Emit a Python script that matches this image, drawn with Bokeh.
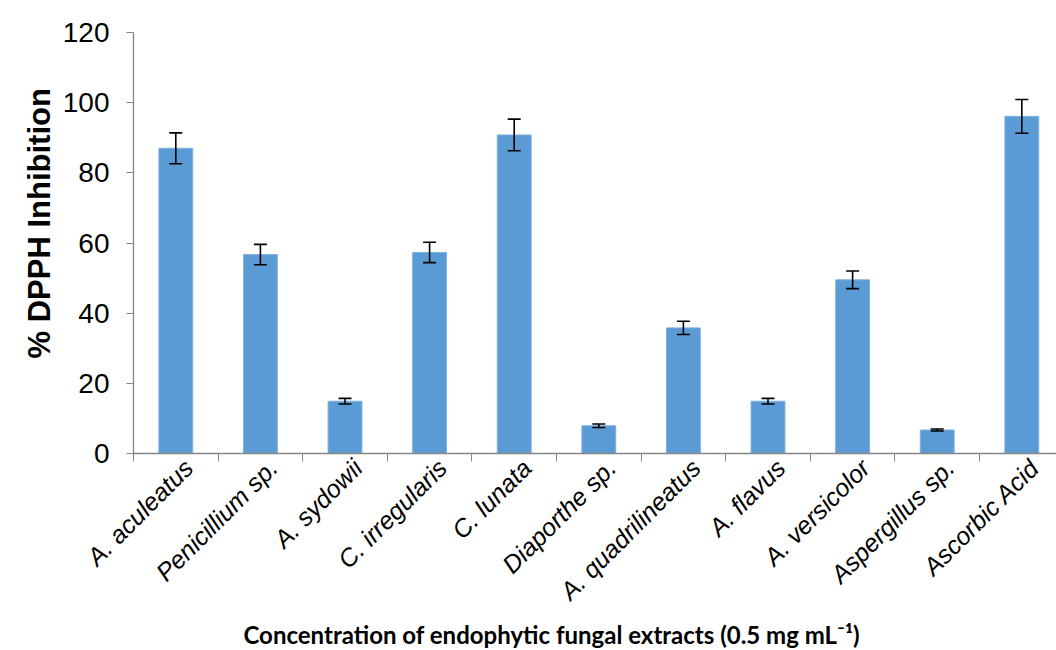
import numpy as np
from bokeh.plotting import figure
from bokeh.models import Range1d, FixedTicker, Whisker, TeeHead, ColumnDataSource, Title
from bokeh.embed import file_html
from bokeh.resources import INLINE

categories = ["A. aculeatus", "Penicillium sp.", "A. sydowii", "C. irregularis", "C. lunata",
              "Diaporthe sp.", "A. quadrilineatus", "A. flavus", "A. versicolor",
              "Aspergillus sp.", "Ascorbic Acid"]
inhibition = [87.0, 56.7, 14.9, 57.3, 90.8, 7.9, 35.8, 14.9, 49.5, 6.7, 96.1]
errors = [4.4, 2.9, 0.8, 2.9, 4.5, 0.5, 1.9, 0.8, 2.5, 0.3, 4.8]
y_ticks = [0, 20, 40, 60, 80, 100, 120]

n = len(categories)
centers = [i + 0.5 for i in range(n)]
bounds = [float(i) for i in range(n + 1)]
label_pos = [c + 0.15 for c in centers]

src = ColumnDataSource(dict(
    x=centers,
    top=inhibition,
    upper=[v + e for v, e in zip(inhibition, errors)],
    lower=[v - e for v, e in zip(inhibition, errors)],
))

p = figure(frame_width=923, frame_height=421,
           min_border_left=133, min_border_top=32, min_border_right=0, min_border_bottom=0,
           x_range=Range1d(0, 10.91), y_range=Range1d(0, 120),
           output_backend="svg", toolbar_location=None, tools="")
p.outline_line_color = None
p.background_fill_color = "white"
p.border_fill_color = "white"
p.xgrid.grid_line_color = None
p.ygrid.grid_line_color = None

p.vbar(x="x", top="top", width=0.4, bottom=0, source=src,
       fill_color="#5B9BD5", line_color="#7DAFE0", line_width=1)

w = Whisker(base="x", upper="upper", lower="lower", source=src, dimension="height",
            line_color="black", line_width=1.6, level="overlay",
            upper_head=TeeHead(size=13, line_color="black", line_width=1.6),
            lower_head=TeeHead(size=13, line_color="black", line_width=1.6))
p.add_layout(w)

# x axis
xa = p.xaxis[0]
xa.ticker = FixedTicker(ticks=label_pos, minor_ticks=bounds)
xa.major_label_overrides = {c: lab for c, lab in zip(label_pos, categories)}
xa.major_tick_line_color = None
xa.minor_tick_line_color = "#868686"
xa.minor_tick_out = 8
xa.minor_tick_in = 0
xa.axis_line_color = "#868686"
xa.axis_line_width = 1.3
xa.major_label_orientation = np.pi / 4
xa.major_label_text_font = "Liberation Sans"
xa.major_label_text_font_style = "italic"
xa.major_label_text_font_size = "25px"
xa.major_label_text_color = "black"
xa.major_label_standoff = 2

# y axis
ya = p.yaxis[0]
ya.ticker = FixedTicker(ticks=y_ticks)
ya.minor_tick_line_color = None
ya.major_tick_line_color = "#868686"
ya.major_tick_out = 7
ya.major_tick_in = 0
ya.axis_line_color = "#868686"
ya.axis_line_width = 1.3
ya.major_label_text_font = "Liberation Sans"
ya.major_label_text_font_size = "28px"
ya.major_label_text_color = "black"
ya.major_label_standoff = 17

ytitle = Title(text="% DPPH Inhibition", align="left", offset=95,
               text_font="Liberation Sans", text_font_style="bold", text_font_size="31px",
               text_color="black", standoff=6)
p.add_layout(ytitle, "left")

xtitle = Title(text="Concentration of endophytic fungal extracts (0.5 mg mL\u207b\u00b9)",
               align="left", offset=110, standoff=0,
               text_font="Lato", text_font_style="bold", text_font_size="24px",
               text_color="black")
p.add_layout(xtitle, "below")

open("out.html", "w").write(file_html(p, INLINE))
